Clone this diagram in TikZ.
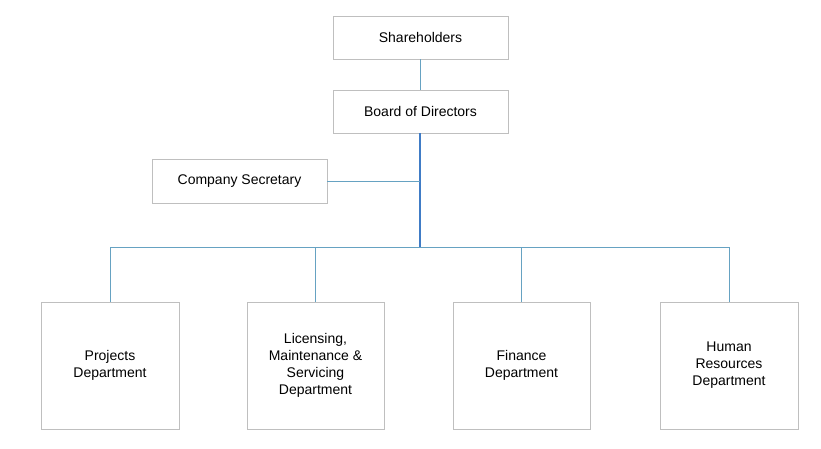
\documentclass[tikz,border=0pt]{standalone}
\usepackage{fontspec}
\setmainfont{Liberation Sans}
\begin{document}
\begin{tikzpicture}[x=1pt,y=-1pt,
 box/.style={draw=black!25,line width=0.8pt,fill=white,inner sep=0pt,align=center,font=\fontsize{14}{17}\selectfont},
 ln/.style={draw=blue!35!cyan!60!black!60,line width=0.8pt},
 ln2/.style={draw=blue!55!cyan!70!black!75,line width=1.1pt}]
\useasboundingbox (0,0) rectangle (821,448);
\node[box,minimum width=175,minimum height=43] (sh) at (420.5,37.5) {Shareholders};
\node[box,minimum width=175,minimum height=43] (bd) at (420.5,111.5) {Board of Directors};
\node[box,minimum width=175,minimum height=44] (cs) at (239.5,181) {Company Secretary};
\node[box,minimum width=138,minimum height=127] (p) at (110,365.5) {Projects\\Department};
\node[box,minimum width=137,minimum height=127] (l) at (315.5,365.5) {Licensing,\\Maintenance \&\\Servicing\\Department};
\node[box,minimum width=137,minimum height=127] (f) at (521.5,365.5) {Finance\\Department};
\node[box,minimum width=138,minimum height=127] (h) at (729,365.5) {Human\\Resources\\Department};
\coordinate (j) at (420,247);
\coordinate (k) at (420,181);
\draw[ln] (sh.south -| 420,0) -- (bd.north -| 420,0);
\draw[ln2] (bd.south -| 420,0) -- (j);
\draw[ln] (cs.east) -- (k);
\draw[ln] (p.north) -- (p.north |- j) -- (h.north |- j) -- (h.north);
\draw[ln] (l.north) -- (l.north |- j);
\draw[ln] (f.north) -- (f.north |- j);
\end{tikzpicture}
\end{document}
